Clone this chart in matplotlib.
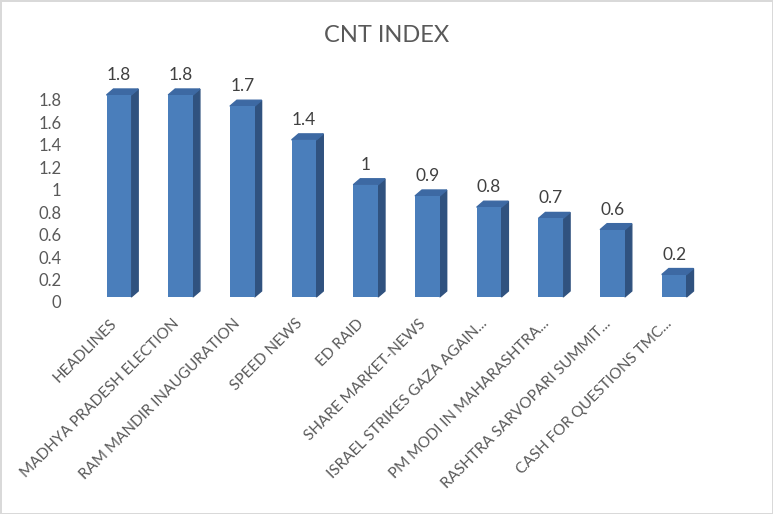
import matplotlib.pyplot as plt
from matplotlib.patches import Polygon
from matplotlib.transforms import ScaledTranslation
import numpy as np

plt.rcParams['font.family'] = ['Lato', 'DejaVu Sans']

# data
categories = ["HEADLINES", "MADHYA PRADESH ELECTION", "RAM MANDIR INAUGURATION",
              "SPEED NEWS", "ED RAID", "SHARE MARKET-NEWS", "ISRAEL STRIKES GAZA AGAIN...",
              "PM MODI IN MAHARASHTRA...", "RASHTRA SARVOPARI SUMMIT...",
              "CASH FOR QUESTIONS TMC..."]
values = [1.8, 1.8, 1.7, 1.4, 1, 0.9, 0.8, 0.7, 0.6, 0.2]
value_labels = ["1.8", "1.8", "1.7", "1.4", "1", "0.9", "0.8", "0.7", "0.6", "0.2"]
yticks = [0, 0.2, 0.4, 0.6, 0.8, 1.0, 1.2, 1.4, 1.6, 1.8]
ytick_labels = ["0", "0.2", "0.4", "0.6", "0.8", "1", "1.2", "1.4", "1.6", "1.8"]

front = '#4a7ebb'
side = '#30527f'
top = '#3d69a3'
txt = '#595959'

fig = plt.figure(figsize=(7.73, 5.14), dpi=100)
fig.patch.set_edgecolor('#d9d9d9')
fig.patch.set_linewidth(2)

ax = fig.add_axes([88/773, 217/514, 617/773, 202/514])
x = np.arange(len(values))
w = 0.4
ax.bar(x, values, width=w, color=front, zorder=3)
ax.set_xlim(-0.5, len(values) - 0.5)
ax.set_ylim(0, 1.8)

for s in ax.spines.values():
    s.set_visible(False)
ax.set_yticks(yticks)
ax.set_yticklabels(ytick_labels, fontsize=12, color=txt)
ax.tick_params(axis='y', length=0, pad=19)
shift_y = ScaledTranslation(0, -5/100, fig.dpi_scale_trans)
for t in ax.get_yticklabels():
    t.set_transform(t.get_transform() + shift_y)

ax.set_xticks(x)
ax.set_xticklabels(categories, rotation=45, ha='right', rotation_mode='anchor',
                   fontsize=11, color=txt)
ax.tick_params(axis='x', length=0, pad=14)
shift_x = ScaledTranslation(-9/100, 0, fig.dpi_scale_trans)
for t in ax.get_xticklabels():
    t.set_transform(t.get_transform() + shift_x)

# fake 3D side and top faces (pixel offsets)
dx, dy = 7, 6
inv = ax.transData.inverted()
for xi, v in zip(x, values):
    p = ax.transData.transform([(xi - w/2, v), (xi + w/2, v), (xi + w/2, 0)])
    (lx, ty), (rx, _), (_, by) = p
    side_pts = inv.transform([(rx, by), (rx, ty), (rx + dx, ty + dy), (rx + dx, by + dy)])
    top_pts = inv.transform([(lx, ty), (rx, ty), (rx + dx, ty + dy), (lx + dx, ty + dy)])
    ax.add_patch(Polygon(side_pts, closed=True, color=side, clip_on=False, zorder=2))
    ax.add_patch(Polygon(top_pts, closed=True, color=top, clip_on=False, zorder=2))

for xi, v, lab in zip(x, values, value_labels):
    ax.annotate(lab, (xi, v), xytext=(0, 20), textcoords='offset pixels',
                ha='center', va='center', fontsize=12.5, color='#404040',
                annotation_clip=False)

fig.text(0.5, 1 - 36/514, "CNT INDEX", ha='center', va='center', fontsize=17, color=txt)

fig.savefig('out.png', dpi=100)
